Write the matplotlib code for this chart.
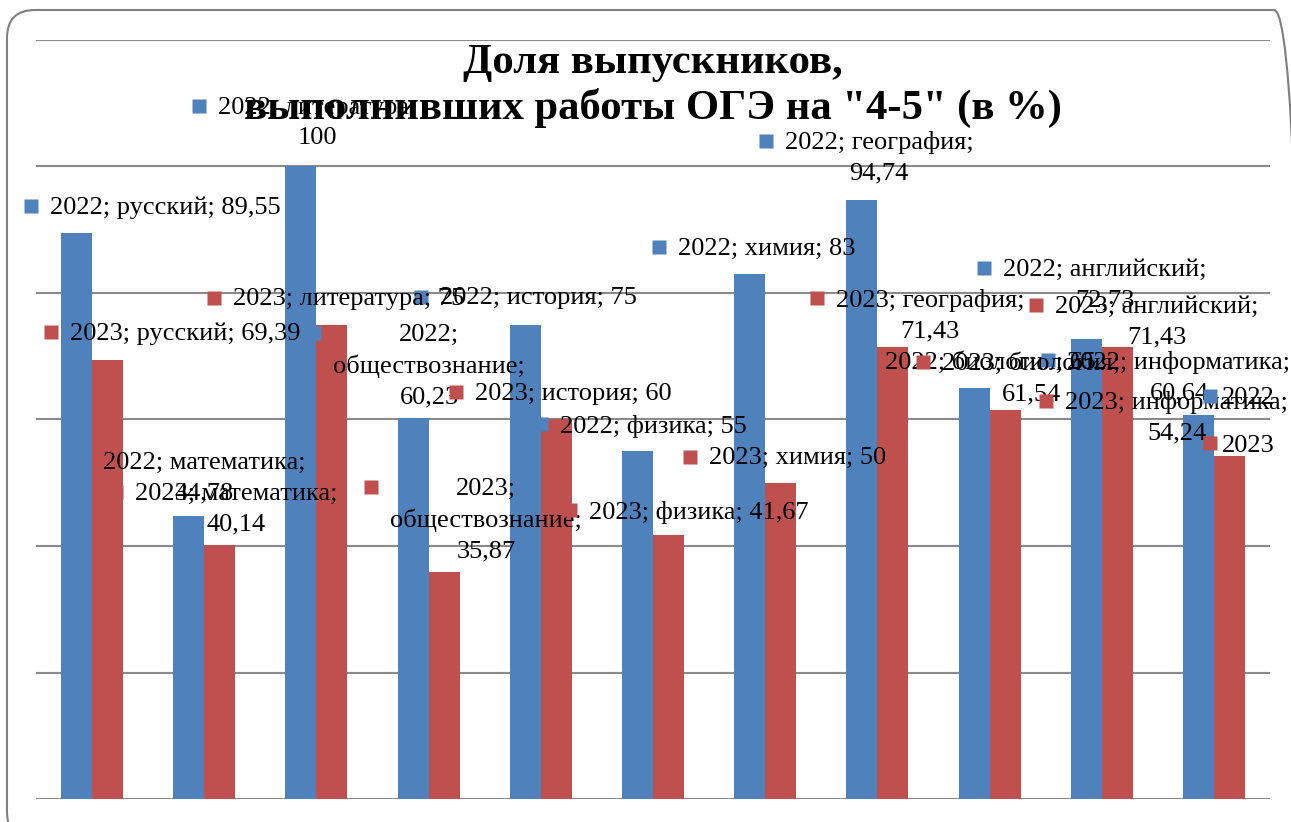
import matplotlib
matplotlib.use('Agg')
import matplotlib.pyplot as plt
import numpy as np
from matplotlib import transforms
from matplotlib.patches import FancyBboxPatch

# ---------------- data ----------------
categories = ['русский', 'математика', 'литература', 'обществознание', 'история',
              'физика', 'химия', 'география', 'биология', 'английский', 'информатика']
series_names = ['2022', '2023']
values_2022 = [89.55, 44.78, 100, 60.23, 75, 55, 83, 94.74, 65, 72.73, 60.64]
values_2023 = [69.39, 40.14, 75, 35.87, 60, 41.67, 50, 71.43, 61.54, 71.43, 54.24]
title_lines = ['Доля выпускников,', 'выполнивших работы ОГЭ на "4-5" (в %)']
extra_labels = ['2022', '2023']

# ---------------- layout / style ----------------
BLUE, RED = '#4F81BD', '#C0504D'
GRID = '#8a8a8a'
FONT = ['Liberation Serif', 'DejaVu Serif']
W, H = 1291, 822
LABEL_SIZE = 19
LINESP = 1.5
TOP_SHIFT = 9.5  # pixels from first-line centre to top of text box

# label line-break pattern per bar: (after year, after category)
breaks_2022 = [(' ', ' '), (' ', '\n'), (' ', '\n'), ('\n', '\n'), (' ', ' '), (' ', ' '),
               (' ', ' '), (' ', '\n'), (' ', ' '), (' ', '\n'), (' ', '\n')]
breaks_2023 = [(' ', ' '), (' ', '\n'), (' ', ' '), ('\n', '\n'), (' ', ' '), (' ', ' '),
               (' ', ' '), (' ', '\n'), (' ', '\n'), (' ', '\n'), (' ', '\n')]
# label offsets (pixels, x right / y down) from the top centre of each bar
offs_2022 = [(-27, -27), (-86, -54), (-83, -60), (-80, -85), (-85, -28), (-78, -27),
             (-72, -27), (-77, -59), (-89, -27), (-83, -71), (-131, -55)]
offs_2023 = [(-38, -28), (-85, -53), (-99, -27), (-54, -85), (-81, -27), (-79, -25),
             (-72, -26), (-57, -49), (-63, -48), (-62, -42), (-164, -55)]

fig = plt.figure(figsize=(W / 100, H / 100), dpi=100)
ax = fig.add_axes([36 / W, (H - 799) / H, (1270 - 36) / W, (799 - 40) / H])

x = np.arange(len(categories))
bw = 0.276
bars_22 = ax.bar(x - bw / 2, values_2022, bw, color=BLUE, zorder=2, label=series_names[0])
bars_23 = ax.bar(x + bw / 2, values_2023, bw, color=RED, zorder=2, label=series_names[1])

ax.set_xlim(-0.5, len(categories) - 0.5)
ax.set_ylim(0, 120)
ax.set_yticks(np.arange(0, 121, 20))
ax.yaxis.grid(True, color=GRID, lw=1.5)
ax.set_axisbelow(True)
ax.tick_params(left=False, bottom=False, labelleft=False, labelbottom=False)
for s in ax.spines.values():
    s.set_visible(False)
ax.patch.set_alpha(0)


def fmt(v):
    return f"{v:g}".replace('.', ',')


def add_labels(bars, vals, year, breaks, offs, color):
    for i, rect in enumerate(bars):
        bx = rect.get_x() + rect.get_width() / 2
        by = rect.get_height()
        s1, s2 = breaks[i]
        txt = f"{year};{s1}{categories[i]};{s2}{fmt(vals[i])}"
        dx, dy = offs[i]
        ax.annotate(txt, xy=(bx, by), xycoords='data', xytext=(dx, -dy + TOP_SHIFT),
                    textcoords='offset pixels', ha='left', va='top',
                    ma='center', fontsize=LABEL_SIZE, family=FONT, linespacing=LINESP,
                    zorder=5, annotation_clip=False)
        tr = transforms.offset_copy(ax.transData, fig=fig, x=dx - 19, y=-dy, units='dots')
        ax.plot([bx], [by], marker='s', ms=9.4, color=color, mec='none',
                transform=tr, clip_on=False, zorder=5)


add_labels(bars_22, values_2022, series_names[0], breaks_2022, offs_2022, BLUE)
add_labels(bars_23, values_2023, series_names[1], breaks_2023, offs_2023, RED)

# stray clipped labels at the right edge
for lab, col, yf in zip(extra_labels, [BLUE, RED], [0.531, 0.469]):
    ax.text(0.961, yf, lab, transform=ax.transAxes, ha='left', va='center_baseline',
            fontsize=LABEL_SIZE, family=FONT, zorder=5)
    ax.plot([0.951], [yf], marker='s', ms=9.4, color=col, mec='none',
            transform=ax.transAxes, clip_on=False, zorder=5)

# title
fig.text(653 / W, 1 - 63 / H, title_lines[0], ha='center', va='center',
         fontsize=30.7, fontweight='bold', family=FONT, zorder=10)
fig.text(653 / W, 1 - 108 / H, title_lines[1], ha='center', va='center',
         fontsize=30.7, fontweight='bold', family=FONT, zorder=10)

# rounded frame (runs off the right and bottom edges)
frame = FancyBboxPatch((7, -18), 1295, H - 10 + 18,
                       boxstyle='round,pad=0,rounding_size=28',
                       transform=transforms.IdentityTransform(),
                       fill=False, ec='#7f7f7f', lw=1.5)
fig.add_artist(frame)

fig.savefig('out.png', dpi=100)
